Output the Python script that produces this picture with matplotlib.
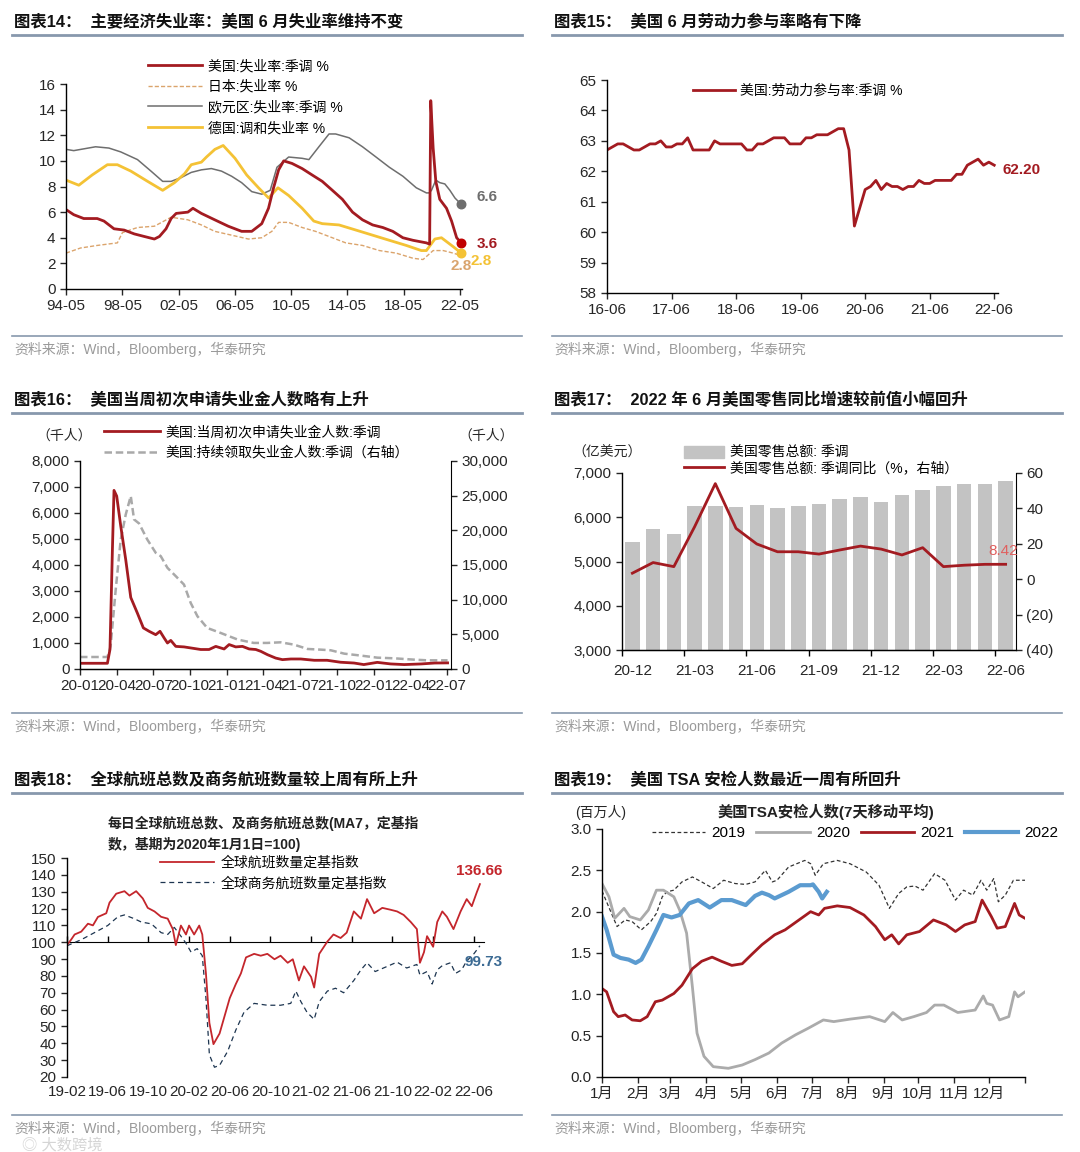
import matplotlib
matplotlib.use("Agg")
import matplotlib.pyplot as plt
from matplotlib.lines import Line2D
from matplotlib.patches import Patch
from matplotlib.ticker import FuncFormatter

plt.rcParams['font.family'] = ['Liberation Sans', 'Noto Sans CJK SC']
plt.rcParams['axes.unicode_minus'] = False

# ---------- 图表14 失业率 ----------
us_x = [1994.33, 1994.88, 1995.59, 1996.55, 1997.03, 1997.74, 1998.46, 1999.18, 1999.89, 2000.61,
        2000.97, 2001.44, 2001.80, 2002.16, 2002.99, 2003.35, 2003.95, 2004.90, 2005.86, 2006.81,
        2007.53, 2008.24, 2008.72, 2009.08, 2009.44, 2009.80, 2010.39, 2011.11, 2011.82, 2012.54,
        2013.26, 2013.97, 2014.69, 2015.40, 2016.12, 2016.84, 2017.55, 2018.27, 2018.99, 2019.94,
        2020.17, 2020.25, 2020.42, 2020.61, 2020.89, 2021.37, 2021.73, 2022.09, 2022.42]
us_y = [6.2, 5.8, 5.5, 5.5, 5.3, 4.7, 4.6, 4.3, 4.1, 3.9,
        4.1, 4.7, 5.5, 5.9, 6.0, 6.3, 5.9, 5.4, 4.9, 4.5,
        4.5, 5.1, 6.3, 7.9, 9.3, 10.0, 9.8, 9.4, 8.9, 8.4,
        7.7, 7.0, 6.0, 5.4, 5.0, 4.8, 4.5, 4.0, 3.8, 3.6,
        3.5, 14.7, 11.0, 8.4, 7.0, 6.3, 5.3, 4.0, 3.6]
jp_x = [1994.33, 1995.36, 1996.55, 1997.98, 1998.34, 1999.41, 2000.61, 2001.80, 2002.99, 2003.95,
        2004.90, 2006.10, 2007.29, 2008.24, 2008.96, 2009.44, 2010.15, 2011.11, 2012.06, 2013.02,
        2014.21, 2015.40, 2016.60, 2017.79, 2018.99, 2019.70, 2020.42, 2021.13, 2021.85, 2022.42]
jp_y = [2.8, 3.2, 3.4, 3.6, 4.4, 4.8, 4.9, 5.6, 5.4, 5.0,
        4.5, 4.2, 3.9, 4.0, 4.5, 5.2, 5.2, 4.8, 4.5, 4.1,
        3.6, 3.4, 3.0, 2.8, 2.4, 2.3, 3.0, 3.0, 2.8, 2.6]
eu_x = [1994.33, 1994.88, 1996.43, 1997.38, 1998.22, 1999.41, 2000.37, 2001.20, 2001.80, 2002.52,
        2003.23, 2003.95, 2004.66, 2005.38, 2006.10, 2006.81, 2007.53, 2008.24, 2008.84, 2009.32,
        2010.15, 2011.11, 2011.59, 2012.30, 2013.02, 2013.49, 2014.45, 2015.40, 2016.36, 2017.31,
        2018.27, 2019.22, 2019.94, 2020.13, 2020.30, 2020.61, 2020.89, 2021.25, 2021.61, 2021.97,
        2022.42]
eu_y = [10.9, 10.8, 11.1, 11.0, 10.7, 10.1, 9.2, 8.4, 8.4, 8.7,
        9.1, 9.3, 9.4, 9.2, 8.8, 8.3, 7.6, 7.4, 7.7, 9.5,
        10.3, 10.2, 10.1, 11.1, 12.1, 12.1, 11.8, 11.1, 10.3, 9.5,
        8.8, 7.9, 7.5, 7.5, 7.7, 8.5, 8.3, 8.2, 7.7, 7.1,
        6.6]
de_x = [1994.33, 1995.24, 1996.19, 1997.27, 1997.98, 1998.94, 2000.13, 2001.20, 2002.04, 2002.76,
        2003.23, 2003.95, 2004.31, 2004.91, 2005.50, 2006.34, 2007.17, 2008.01, 2008.73, 2009.39,
        2010.15, 2011.11, 2011.94, 2012.54, 2013.73, 2014.93, 2016.12, 2017.31, 2018.51, 2019.58,
        2019.94, 2020.54, 2021.01, 2021.37, 2021.85, 2022.42]
de_y = [8.5, 8.1, 8.9, 9.7, 9.7, 9.2, 8.4, 7.7, 8.3, 9.0,
        9.7, 9.9, 10.3, 10.9, 11.2, 10.2, 8.9, 7.9, 7.1, 7.9,
        7.3, 6.3, 5.3, 5.1, 5.0, 4.6, 4.2, 3.8, 3.4, 3.0,
        3.0, 3.9, 4.0, 3.7, 3.3, 2.8]
unemp_ticks = [1994.33, 1998.33, 2002.33, 2006.33, 2010.33, 2014.33, 2018.33, 2022.33]
unemp_labels = ['94-05', '98-05', '02-05', '06-05', '10-05', '14-05', '18-05', '22-05']

# ---------- 图表15 劳动参与率 (2016-06 ~ 2022-06, 月度) ----------
lfpr = [62.7, 62.8, 62.9, 62.9, 62.8, 62.7, 62.7,
        62.8, 62.9, 62.9, 63.0, 62.8, 62.8, 62.9, 62.9, 63.1, 62.7, 62.7, 62.7,
        62.7, 63.0, 62.9, 62.9, 62.9, 62.9, 62.9, 62.7, 62.7, 62.9, 62.9, 63.0,
        63.1, 63.1, 63.1, 62.9, 62.9, 62.9, 63.1, 63.1, 63.2, 63.2, 63.2, 63.3,
        63.4, 63.4, 62.7, 60.2, 60.8, 61.4, 61.5, 61.7, 61.4, 61.6, 61.5, 61.5,
        61.4, 61.5, 61.5, 61.7, 61.6, 61.6, 61.7, 61.7, 61.7, 61.7, 61.9, 61.9,
        62.2, 62.3, 62.4, 62.2, 62.3, 62.2]
lfpr_labels = ['16-06', '17-06', '18-06', '19-06', '20-06', '21-06', '22-06']

# ---------- 图表16 初请/续请 (x: 自2020-01起的月数) ----------
claims_x = [0, 2.24, 2.45, 2.65, 2.78, 3.0, 3.33, 3.74, 4.15, 4.69,
            5.18, 5.65, 6.19, 6.54, 6.87, 7.15, 7.42, 7.83, 8.5, 9.05,
            9.87, 10.55, 11.1, 11.78, 12.19, 12.73, 13.28, 13.83, 14.37, 14.78,
            15.33, 16.0, 16.55, 17.24, 18.05, 19.15, 20.2, 21.3, 22.4, 23.2,
            24.3, 25.4, 26.5, 27.9, 29.0, 30.05]
claims_y = [220, 220, 750, 4600, 6870, 6650, 5500, 4200, 2750, 2150,
            1580, 1450, 1320, 1450, 1200, 1000, 1100, 870, 850, 810,
            750, 750, 870, 770, 940, 850, 870, 770, 750, 680,
            550, 420, 360, 385, 385, 335, 335, 260, 230, 170,
            255, 195, 170, 195, 230, 235]
cont_x = [0, 2.24, 2.5, 2.92, 3.33, 3.74, 4.15, 4.42, 4.83, 5.5,
          6.19, 6.6, 7.15, 7.83, 8.5, 9.05, 9.6, 10.4, 11.5, 12.9,
          14.2, 15.3, 16.4, 17.5, 18.6, 19.7, 20.5, 21.6, 23.0, 24.3,
          25.7, 27.3, 28.4, 30.05]
cont_y = [1730, 1730, 3270, 11460, 18680, 22290, 24940, 21570, 20990, 18680,
          16760, 16280, 14590, 13390, 12180, 9530, 7610, 5920, 5200, 4240,
          3760, 3760, 3850, 3510, 2890, 2790, 2700, 2215, 1926, 1637,
          1540, 1350, 1250, 1250]
claims_labels = ['20-01', '20-04', '20-07', '20-10', '21-01', '21-04',
                 '21-07', '21-10', '22-01', '22-04', '22-07']

# ---------- 图表17 零售 ----------
retail_months = ['20-12', '21-01', '21-02', '21-03', '21-04', '21-05', '21-06', '21-07', '21-08',
                 '21-09', '21-10', '21-11', '21-12', '22-01', '22-02', '22-03', '22-04', '22-05', '22-06']
retail_sales = [5430, 5730, 5630, 6260, 6260, 6230, 6280, 6210, 6250, 6310,
                6410, 6450, 6350, 6510, 6625, 6700, 6745, 6745, 6813]
retail_yoy = [3.4, 9.4, 7.1, 29.6, 54.0, 28.7, 19.9, 15.5, 15.5, 14.2,
              16.5, 18.7, 17.0, 13.7, 17.8, 7.1, 7.9, 8.4, 8.42]

# ---------- 图表18 航班 (x: 自2019-02起的月数) ----------
fl_x = [0, 0.4, 0.75, 1.4, 2.06, 2.55, 3.04, 3.86, 4.18, 4.84,
        5.65, 6.14, 6.8, 7.45, 7.94, 8.6, 9.25, 9.9, 10.4, 10.7,
        11.2, 11.7, 12.0, 12.5, 13.0, 13.3, 13.66, 14.0, 14.4, 15.0,
        15.5, 16.0, 16.6, 17.1, 17.6, 18.4, 19.05, 19.7, 20.4, 21.0,
        21.7, 22.2, 22.8, 23.3, 24.0, 24.3, 24.8, 25.6, 26.2, 26.9,
        27.5, 28.2, 28.9, 29.5, 30.2, 31.0, 31.8, 32.45, 33.1, 33.8,
        34.4, 34.7, 35.1, 35.4, 36.0, 36.4, 36.9, 37.35, 38.0, 38.7,
        39.3, 39.8, 40.3, 40.6]
fl_y = [98.3, 101.5, 104.6, 106.3, 111, 110, 115, 117.2, 123.5, 128.8,
        130.3, 127.7, 130.3, 126, 120.4, 118.3, 115.1, 114, 107.8, 98.3,
        109.9, 104.6, 109.9, 104.6, 109.9, 104.6, 81.5, 52.1, 39.5, 45.8,
        56.3, 66.8, 75.2, 81.5, 91, 93.1, 92, 93.1, 89.9, 92,
        87.8, 89.9, 77.3, 85.7, 79.4, 73.1, 93.1, 100.4, 104.6, 102.5,
        105.7, 118.3, 114, 125.6, 117.2, 120.4, 119.3, 118.3, 116.2, 112,
        107.8, 87.8, 94.1, 103.6, 97.3, 112, 118.3, 115.1, 107.8, 118.3,
        125.6, 121.4, 129.8, 134.5]
bz_x = [0, 1.4, 2.7, 4.0, 5.0, 5.65, 6.6, 7.3, 8.3, 9.25,
        9.9, 10.55, 11.2, 11.7, 12.2, 12.8, 13.3, 13.66, 14.0, 14.5,
        15.0, 15.8, 16.6, 17.4, 18.4, 19.7, 21.0, 22.0, 22.5, 23.0,
        23.6, 24.3, 24.8, 25.6, 26.4, 27.2, 28.2, 28.9, 29.5, 30.3,
        31.5, 32.45, 33.4, 34.4, 34.7, 35.4, 35.9, 36.4, 36.9, 37.7,
        38.2, 38.8, 39.3, 40.0, 40.6]
bz_y = [97.9, 101.5, 105.7, 109.9, 115.1, 116.2, 114, 112, 110.9, 105.7,
        104.6, 108.8, 103.6, 99.4, 94.1, 96.2, 92, 66.8, 33.2, 25.8,
        26.9, 35.3, 47.9, 58.4, 63.7, 62.6, 62.6, 63.7, 71, 64.7,
        58.4, 54.2, 64.7, 71, 72.7, 70, 77.3, 83.6, 87.8, 82.6,
        85.7, 88.2, 84.7, 86.8, 80.5, 82.6, 75.2, 83.6, 86.1, 87.8,
        81.5, 83.6, 88.9, 93.1, 97.9]
flight_labels = ['19-02', '19-06', '19-10', '20-02', '20-06', '20-10',
                 '21-02', '21-06', '21-10', '22-02', '22-06']

# ---------- 图表19 TSA (x: 年内天数) ----------
tsa19_day = [0, 13, 20, 26, 34, 42, 47, 52, 56, 62, 69, 78, 86, 96, 105, 115, 124, 132, 141, 147,
             151, 161, 175, 180, 184, 191, 203, 214, 228, 239, 248, 256, 263, 270, 277, 287, 296,
             305, 312, 320, 327, 332, 338, 342, 348, 355, 365]
tsa19_val = [2.25, 1.82, 1.9, 1.88, 1.78, 1.88, 1.98, 2.18, 2.24, 2.26, 2.36, 2.42, 2.36, 2.28,
             2.38, 2.34, 2.33, 2.36, 2.5, 2.36, 2.38, 2.54, 2.62, 2.58, 2.44, 2.58, 2.62, 2.58,
             2.48, 2.32, 2.04, 2.22, 2.3, 2.31, 2.26, 2.46, 2.38, 2.14, 2.26, 2.2, 2.38, 2.26,
             2.4, 2.12, 2.2, 2.38, 2.38]
tsa20_day = [0, 6, 11, 19, 24, 33, 40, 47, 53, 62, 67, 73, 78, 82, 88, 96, 109, 121, 132, 144,
             155, 167, 178, 191, 200, 214, 231, 244, 251, 259, 269, 280, 287, 295, 307, 322, 329,
             332, 337, 343, 351, 356, 359, 365]
tsa20_val = [2.34, 2.18, 1.92, 2.04, 1.94, 1.9, 2.02, 2.26, 2.26, 2.18, 2.02, 1.74, 1.09, 0.53,
             0.25, 0.125, 0.105, 0.145, 0.21, 0.29, 0.41, 0.51, 0.59, 0.69, 0.67, 0.70, 0.73,
             0.67, 0.78, 0.69, 0.73, 0.78, 0.87, 0.87, 0.78, 0.81, 0.98, 0.89, 0.87, 0.69, 0.73,
             1.03, 0.97, 1.03]
tsa21_day = [0, 4, 10, 14, 20, 26, 33, 39, 46, 52, 62, 69, 78, 86, 95, 103, 112, 121, 129, 138,
             149, 158, 170, 180, 187, 192, 203, 214, 226, 236, 244, 250, 256, 263, 274, 286, 297,
             305, 313, 322, 328, 332, 336, 341, 348, 356, 360, 365]
tsa21_val = [1.07, 1.03, 0.79, 0.73, 0.75, 0.69, 0.68, 0.73, 0.91, 0.93, 1.01, 1.11, 1.31, 1.40,
             1.45, 1.40, 1.35, 1.37, 1.48, 1.60, 1.72, 1.78, 1.90, 2.0, 1.96, 2.04, 2.07, 2.05,
             1.96, 1.82, 1.66, 1.72, 1.61, 1.72, 1.76, 1.90, 1.84, 1.76, 1.84, 1.88, 2.14, 2.04,
             1.94, 1.80, 1.82, 2.10, 1.96, 1.92]
tsa22_day = [0, 4, 10, 16, 23, 29, 34, 40, 47, 53, 60, 67, 75, 83, 93, 103, 112, 124, 132, 138,
             144, 149, 161, 171, 180, 182, 187, 190, 194]
tsa22_val = [1.94, 1.78, 1.48, 1.44, 1.42, 1.38, 1.42, 1.58, 1.78, 1.96, 1.93, 1.96, 2.10, 2.14,
             2.05, 2.14, 2.14, 2.08, 2.19, 2.23, 2.2, 2.16, 2.24, 2.32, 2.32, 2.33, 2.24, 2.16, 2.24]
month_starts = [0, 31, 59, 90, 120, 151, 181, 212, 243, 273, 304, 334, 365]
month_labels = ['1月', '2月', '3月', '4月', '5月', '6月', '7月', '8月', '9月', '10月', '11月', '12月', '']

SOURCE = '资料来源：Wind，Bloomberg，华泰研究'
RED = '#a31b21'
RULE = '#8798ad'
TICK = 11
LEG = 10

W, H = 1080, 1152
fig = plt.figure(figsize=(W / 100, H / 100), dpi=100)


def fx(x):
    return x / W


def fy(y):
    return 1 - y / H


def box(x0, y0, x1, y1):
    return fig.add_axes([x0 / W, 1 - y1 / H, (x1 - x0) / W, (y1 - y0) / H])


def frame(x0, x1, ytitle, title, ysrc):
    fig.text(fx(x0 + 2), fy(ytitle), title, fontsize=11.8, fontweight='bold', va='center', color='#111111')
    fig.add_artist(Line2D([fx(x0), fx(x1)], [fy(ytitle + 13)] * 2, color=RULE, lw=2))
    fig.add_artist(Line2D([fx(x0), fx(x1)], [fy(ysrc)] * 2, color=RULE, lw=1.2))
    fig.text(fx(x0 + 2), fy(ysrc + 13), SOURCE, fontsize=10, color='#9a9a9a', va='center')


def style(ax):
    for s in ['top', 'right']:
        ax.spines[s].set_visible(False)
    for s in ['left', 'bottom']:
        ax.spines[s].set_linewidth(1)
    ax.tick_params(direction='out', length=4, width=1, labelsize=TICK, colors='#262626')


def style_right(ax):
    ax.spines['top'].set_visible(False)
    ax.spines['left'].set_visible(False)
    ax.tick_params(direction='out', length=4, width=1, labelsize=TICK, colors='#262626')


frame(12, 522, 22, '图表14：  主要经济失业率：美国 6 月失业率维持不变', 336)
frame(552, 1062, 22, '图表15：  美国 6 月劳动力参与率略有下降', 336)
frame(12, 522, 400, '图表16：  美国当周初次申请失业金人数略有上升', 713)
frame(552, 1062, 400, '图表17：  2022 年 6 月美国零售同比增速较前值小幅回升', 713)
frame(12, 522, 780, '图表18：  全球航班总数及商务航班数量较上周有所上升', 1115)
frame(552, 1062, 780, '图表19：  美国 TSA 安检人数最近一周有所回升', 1115)

# ---------- 图表14 ----------
ax1 = box(66, 84, 462, 289)
style(ax1)
l_jp, = ax1.plot(jp_x, jp_y, color='#dba46c', lw=1, ls=(0, (3, 1.5)))
l_eu, = ax1.plot(eu_x, eu_y, color='#6e6e6e', lw=1.1)
l_de, = ax1.plot(de_x, de_y, color='#f4c235', lw=2)
l_us, = ax1.plot(us_x, us_y, color=RED, lw=2)
ax1.scatter([eu_x[-1]], [eu_y[-1]], s=38, color='#6e6e6e', zorder=5, clip_on=False)
ax1.scatter([us_x[-1]], [us_y[-1]], s=38, color='#c00000', zorder=5, clip_on=False)
ax1.scatter([de_x[-1]], [de_y[-1]], s=38, color='#f4c235', zorder=5, clip_on=False)
ax1.text(2023.5, 7.2, '6.6', color='#6e6e6e', fontsize=11, fontweight='bold', va='center')
ax1.text(2023.5, 3.5, '3.6', color=RED, fontsize=11, fontweight='bold', va='center')
ax1.text(2022.4, 1.8, '2.8', color='#d9a46e', fontsize=11, fontweight='bold', ha='center', va='center')
ax1.text(2023.8, 2.2, '2.8', color='#f4c235', fontsize=11, fontweight='bold', ha='center', va='center')
ax1.set_xlim(1994.33, 2022.47)
ax1.set_ylim(0, 16)
ax1.set_yticks(range(0, 17, 2))
ax1.set_xticks(unemp_ticks, unemp_labels)
fig.legend([l_us, l_jp, l_eu, l_de],
           ['美国:失业率:季调 %', '日本:失业率 %', '欧元区:失业率:季调 %', '德国:调和失业率 %'],
           loc='upper left', bbox_to_anchor=(fx(148), fy(59)), frameon=False, fontsize=LEG,
           handlelength=3.9, handletextpad=0.4, labelspacing=0.48, borderpad=0, borderaxespad=0)

# ---------- 图表15 ----------
ax2 = box(607, 80, 998, 293)
style(ax2)
l_lf, = ax2.plot(range(len(lfpr)), lfpr, color=RED, lw=2)
ax2.set_xlim(0, 72.7)
ax2.set_ylim(58, 65)
ax2.set_yticks(range(58, 66))
ax2.set_xticks(range(0, 73, 12), lfpr_labels)
ax2.text(73.5, 62.05, '62.20', color=RED, fontsize=11, fontweight='bold', va='center')
ax2.legend([l_lf], ['美国:劳动力参与率:季调 %'], loc='upper left', bbox_to_anchor=(fx(693), fy(84)),
           bbox_transform=fig.transFigure, frameon=False, fontsize=LEG, handlelength=3.0,
           handletextpad=0.4, borderpad=0, borderaxespad=0)

# ---------- 图表16 ----------
ax3 = box(80, 461, 451, 669)
ax3r = ax3.twinx()
style(ax3)
style_right(ax3r)
l_ct, = ax3r.plot(cont_x, cont_y, color='#a9a9a9', lw=1.8, ls=(0, (3, 1.5)))
l_cl, = ax3.plot(claims_x, claims_y, color=RED, lw=2)
ax3.set_zorder(ax3r.get_zorder() + 1)
ax3.patch.set_visible(False)
ax3.set_xlim(0, 30.33)
ax3.set_ylim(0, 8000)
ax3r.set_ylim(0, 30000)
ax3.set_xticks(range(0, 31, 3), claims_labels)
ax3.set_yticks(range(0, 8001, 1000))
ax3r.set_yticks(range(0, 30001, 5000))
ax3.yaxis.set_major_formatter(FuncFormatter(lambda v, p: f'{v:,.0f}'))
ax3r.yaxis.set_major_formatter(FuncFormatter(lambda v, p: f'{v:,.0f}'))
fig.text(fx(64), fy(436), '（千人）', fontsize=10, ha='center', va='center', color='#262626')
fig.text(fx(486), fy(436), '（千人）', fontsize=10, ha='center', va='center', color='#262626')
fig.legend([l_cl, l_ct], ['美国:当周初次申请失业金人数:季调', '美国:持续领取失业金人数:季调（右轴）'],
           loc='upper left', bbox_to_anchor=(fx(104), fy(425)), frameon=False, fontsize=LEG,
           handlelength=4.0, handletextpad=0.4, labelspacing=0.5, borderpad=0, borderaxespad=0)

# ---------- 图表17 ----------
ax4 = box(622, 473, 1016, 650)
ax4r = ax4.twinx()
style(ax4)
style_right(ax4r)
pos = list(range(len(retail_months)))
ax4.bar(pos, retail_sales, width=0.7, color='#c3c3c3')
l_rt, = ax4r.plot(pos, retail_yoy, color=RED, lw=2)
ax4.set_xlim(-0.5, len(pos) - 0.5)
ax4.set_ylim(3000, 7000)
ax4r.set_ylim(-40, 60)
ax4.set_yticks(range(3000, 7001, 1000))
ax4.yaxis.set_major_formatter(FuncFormatter(lambda v, p: f'{v:,.0f}'))
ax4r.set_yticks(range(-40, 61, 20))
ax4r.yaxis.set_major_formatter(FuncFormatter(lambda v, p: f'({abs(v):.0f})' if v < 0 else f'{v:.0f}'))
ax4.set_xticks(pos[::3], retail_months[::3])
ax4.set_xticks([p - 0.5 for p in pos[::3]], minor=True)
ax4.tick_params(axis='x', which='major', length=0, pad=10)
ax4.tick_params(axis='x', which='minor', direction='out', length=4, width=1)
ax4r.text(17.9, 16, '8.42', color='#e0605f', fontsize=11, ha='center', va='center')
fig.text(fx(607), fy(453), '（亿美元）', fontsize=10, ha='center', va='center', color='#262626')
fig.legend([Patch(color='#c3c3c3'), l_rt], ['美国零售总额: 季调', '美国零售总额: 季调同比（%，右轴）'],
           loc='upper left', bbox_to_anchor=(fx(684), fy(446)), frameon=False, fontsize=LEG,
           handlelength=2.9, handleheight=0.9, handletextpad=0.4, labelspacing=0.12,
           borderpad=0, borderaxespad=0)

# ---------- 图表18 ----------
ax5 = box(67, 858, 484, 1077)
style(ax5)
ax5.spines['bottom'].set_visible(False)
l_bz, = ax5.plot(bz_x, bz_y, color='#1d3550', lw=0.9, ls=(0, (4, 3)))
l_fl, = ax5.plot(fl_x, fl_y, color='#c4262c', lw=1.3)
ax5.set_xlim(0, 41)
ax5.set_ylim(20, 150)
ax5.set_yticks(range(20, 151, 10))
ax5.set_xticks(range(0, 41, 4), flight_labels)
ax5.tick_params(axis='x', length=0, pad=6)
base = ax5.secondary_xaxis((100 - 20) / (150 - 20))
base.set_xticks(range(0, 41, 4), [''] * 11)
base.tick_params(direction='out', length=4, width=1)
base.spines['bottom'].set_linewidth(1)
ax5.text(40.5, 142.5, '136.66', color='#c4262c', fontsize=11, fontweight='bold', ha='center', va='center')
ax5.text(41.0, 88.3, '99.73', color='#3b6a93', fontsize=11, fontweight='bold', ha='center', va='center')
fig.text(fx(108), fy(823), '每日全球航班总数、及商务航班总数(MA7，定基指', fontsize=10,
         fontweight='bold', va='center', color='#222222')
fig.text(fx(108), fy(844), '数，基期为2020年1月1日=100)', fontsize=10,
         fontweight='bold', va='center', color='#222222')
fig.legend([l_fl, l_bz], ['全球航班数量定基指数', '全球商务航班数量定基指数'],
           loc='upper left', bbox_to_anchor=(fx(160), fy(856)), frameon=False, fontsize=LEG,
           handlelength=3.9, handletextpad=0.5, labelspacing=0.45, borderpad=0, borderaxespad=0)

# ---------- 图表19 ----------
ax6 = box(602, 829, 1025, 1077)
style(ax6)
l19, = ax6.plot(tsa19_day, tsa19_val, color='#333333', lw=0.9, ls=(0, (3, 2)))
l20, = ax6.plot(tsa20_day, tsa20_val, color='#ababab', lw=2)
l21, = ax6.plot(tsa21_day, tsa21_val, color=RED, lw=2)
l22, = ax6.plot(tsa22_day, tsa22_val, color='#5b9bd0', lw=3)
ax6.set_xlim(0, 365)
ax6.set_ylim(0, 3)
ax6.set_yticks([0, 0.5, 1.0, 1.5, 2.0, 2.5, 3.0])
ax6.yaxis.set_major_formatter(FuncFormatter(lambda v, p: f'{v:.1f}'))
ax6.set_xticks(month_starts, month_labels)
fig.text(fx(826), fy(812), '美国TSA安检人数(7天移动平均)', fontsize=11, fontweight='bold',
         ha='center', va='center', color='#222222')
fig.text(fx(601), fy(812), '(百万人)', fontsize=10, ha='center', va='center', color='#262626')
fig.legend([l19, l20, l21, l22], ['2019', '2020', '2021', '2022'], ncol=4,
           loc='center left', bbox_to_anchor=(fx(652), fy(833)), frameon=False, fontsize=11,
           handlelength=3.5, handletextpad=0.4, columnspacing=0.7, borderpad=0, borderaxespad=0)

# 水印
fig.text(fx(22), fy(1145), '◎ 大数跨境', fontsize=11, color='#c4c4c4', alpha=0.7, va='center')

fig.savefig('out.png', dpi=100)
